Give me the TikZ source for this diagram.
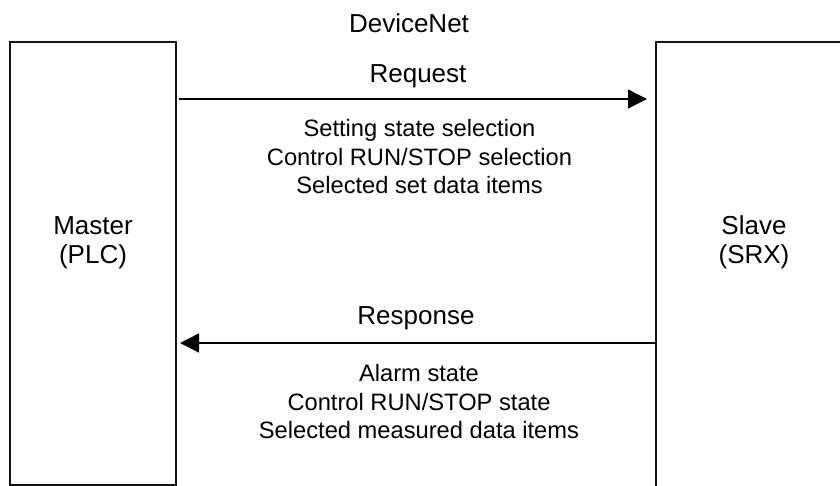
\documentclass[tikz,border=0pt]{standalone}
\usepackage{fontspec}
\setmainfont{Liberation Sans}
\usepackage{tikz}
\usetikzlibrary{arrows.meta,positioning}
\definecolor{framegray}{RGB}{20, 20, 20}

\tikzset{
    station/.style={draw=framegray, line width=2pt, inner sep=0pt, outer sep=0pt,
        minimum width=166pt, minimum height=443pt, anchor=north west},
    title/.style={font=\fontsize{26}{31}\selectfont, anchor=base, inner sep=0pt},
    items/.style={font=\fontsize{23.7}{28.3}\selectfont, anchor=base, inner sep=0pt},
    msg/.style={line width=1.4pt, -{Triangle[length=19pt,width=19pt]}}
}

\begin{document}
\begin{tikzpicture}[x=1pt,y=-1pt]
        \clip (0,0) rectangle (840,485);
        % stations
        \node[station] (master) at (10,41.5) {};
        \node[station, minimum width=230pt, minimum height=480pt] (slave) at (656,41.5) {};
        \node[title] (mastername) at (93,234) {Master};
        \node[title] (masterplc) at (93,263) {(PLC)};
        \node[title] (slavename) at (754,234) {Slave};
        \node[title] (slavesrx) at (754,263) {(SRX)};
        % bus
        \node[title] (devicenet) at (409,32) {DeviceNet};
        % request
        \node[title] (request) at (418,82) {Request};
        \node[items] (req1) at (419.5,136.7) {Setting state selection};
        \node[items] (req2) at (419.5,165) {Control RUN/STOP selection};
        \node[items] (req3) at (419.5,193.3) {Selected set data items};
        % response
        \node[title] (response) at (416,324) {Response};
        \node[items] (resp1) at (419,381.7) {Alarm state};
        \node[items] (resp2) at (419,410) {Control RUN/STOP state};
        \node[items] (resp3) at (419,438.3) {Selected measured data items};
        % messages
        \coordinate (reqy) at (0,99);
        \coordinate (respy) at (0,343);
        \draw[msg, shorten <=3pt, shorten >=9pt] (master.east |- reqy) -- (slave.west |- reqy);
        \draw[msg, shorten >=4pt] (slave.west |- respy) -- (master.east |- respy);
    \end{tikzpicture}
\end{document}
